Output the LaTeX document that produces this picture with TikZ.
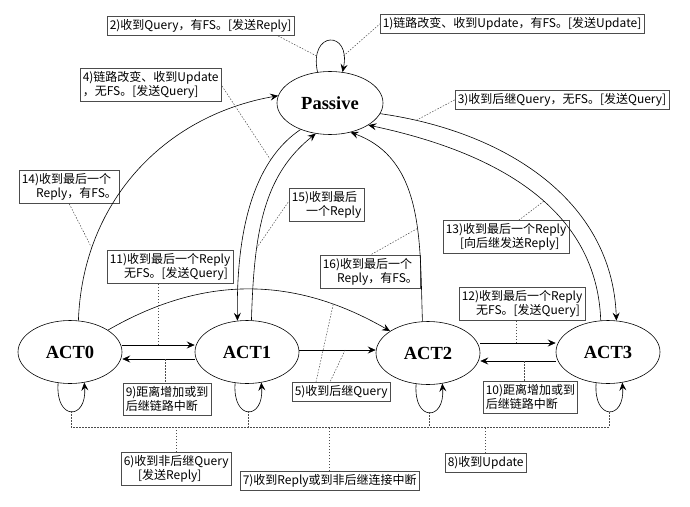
\documentclass[tikz,border=0pt]{standalone}
\usepackage{fontspec}
\setmainfont{Liberation Serif}
\newfontfamily\cjkfont{Noto Sans CJK SC}
\usetikzlibrary{shapes.geometric,arrows.meta,calc}
\begin{document}
\begin{tikzpicture}[x=1pt,y=1pt,
 state/.style={ellipse,draw,line width=0.6pt,inner sep=0pt,minimum width=104pt,minimum height=63pt,font=\bfseries\fontsize{18.5}{21}\selectfont},
 lab/.style={draw=black!70,line width=0.5pt,inner xsep=2.5pt,inner ysep=3pt,font=\cjkfont\fontsize{12}{14.5}\selectfont,align=left,anchor=north west},
 conn/.style={line width=0.6pt},
 arr/.style={conn,-{Stealth[length=8pt,width=7pt,inset=3pt]}},
 ld/.style={line width=0.5pt,black!70,dash pattern=on 1.5pt off 1.5pt}]
\useasboundingbox (0,0) rectangle (690,-506);
\fill[white] (0,0) rectangle (690,-506);

% states
\node[state,minimum width=106pt] (pas) at (330,-103) {Passive};
\node[state] (a0) at (70,-352) {ACT0};
\node[state] (a1) at (247,-352) {ACT1};
\node[state] (a2) at (428,-353) {ACT2};
\node[state] (a3) at (608,-352) {ACT3};

% labels
\node[lab] (l1) at (380,-14) {1)链路改变、收到Update，有FS。[发送Update]};
\node[lab] (l2) at (107,-16) {2)收到Query，有FS。[发送Reply]};
\node[lab] (l3) at (455,-90) {3)收到后继Query，无FS。[发送Query]};
\node[lab] (l4) at (80,-68) {4)链路改变、收到Update\\，无FS。[发送Query]};
\node[lab] (l14) at (19,-170) {14)收到最后一个\\\hspace*{1.2em}Reply，有FS。};
\node[lab] (l15) at (289,-188) {15)收到最后\\\hspace*{1.2em}一个Reply};
\node[lab] (l11) at (107,-250) {11)收到最后一个Reply\\\hspace*{1.2em}无FS。[发送Query]};
\node[lab] (l16) at (320,-255) {16)收到最后一个\\\hspace*{1.2em}Reply，有FS。};
\node[lab] (l13) at (443,-220) {13)收到最后一个Reply\\\hspace*{1.2em}{[}向后继发送Reply]};
\node[lab] (l12) at (459,-287) {12)收到最后一个Reply\\\hspace*{1.2em}无FS。[发送Query]};
\node[lab] (l9) at (123,-383) {9)距离增加或到\\后继链路中断};
\node[lab] (l5) at (292,-382) {5)收到后继Query};
\node[lab] (l10) at (483,-381) {10)距离增加或到\\后继链路中断};
\node[lab] (l6) at (121,-452) {6)收到非后继Query\\\hspace*{1.2em}{[}发送Reply]};
\node[lab] (l7) at (240,-471) {7)收到Reply或到非后继连接中断};
\node[lab] (l8) at (445,-453) {8)收到Update};

% self loops
\draw[arr] (pas.112) .. controls +(-9,42) and +(9,42) .. coordinate[pos=0.15] (pl) coordinate[pos=0.85] (pr) (pas.68);
\foreach \n in {0,1,2,3}{
  \draw[arr] (a\n.249) .. controls +(-3,-38) and +(3,-38) .. coordinate[pos=0.5] (lb\n) (a\n.295);
}

% transitions to/from Passive
\draw[arr] (a0.75) to[out=88,in=190] coordinate[pos=0.22] (c14) (pas.172);
\draw[arr] (pas.222) .. controls (258,-158) and (236,-220) .. coordinate[pos=0.27] (c4) (a1.107);
\draw[arr] (a1.82) .. controls (254,-230) and (264,-175) .. coordinate[pos=0.3] (c15) (pas.245);
\draw[arr] (a2.100) to[out=92,in=-20] coordinate[pos=0.4] (c16) (pas.-55);
\draw[arr] (pas.-12) to[out=-8,in=92] coordinate[pos=0.1] (c3) (a3.75);
\draw[arr] (a3.103) to[out=92,in=-12] coordinate[pos=0.43] (c13) (pas.-30);

% ACT0 -> ACT2 arc
\draw[arr] (a0.30) to[out=30,in=150] coordinate[pos=0.8] (c5a) (a2.150);

% horizontal transitions
\draw[arr] ($(a0.east)+(0,7)$) -- coordinate[pos=0.5] (h01) ($(a1.west)+(0,7)$);
\draw[arr] ($(a1.west)+(0,-7)$) -- coordinate[pos=0.41] (h10) ($(a0.east)+(0,-7)$);
\draw[arr] ($(a1.east)+(0,2)$) -- coordinate[pos=0.6] (h12) ($(a2.west)+(0,3)$);
\draw[arr] ($(a2.east)+(0,10)$) -- coordinate[pos=0.48] (h23) ($(a3.west)+(0,9)$);
\draw[arr] ($(a3.west)+(0,-9)$) -- coordinate[pos=0.415] (h32) ($(a2.east)+(0,-8)$);

% leaders
\draw[ld] (pl) -- ($(l2.south east)+(-17,0)$);
\draw[ld] (pr) -- (l1.west);
\draw[ld] (c3) -- (l3.west);
\draw[ld] (c4) -- (l4.east);
\draw[ld] (c14) -- (l14.south);
\draw[ld] (c15) -- ($(l15.west)+(0,4)$);
\draw[ld] (c16) -- (l16.north);
\draw[ld] (c13) -- ($(l13.north)+(13,0)$);
\draw[ld] (h01) -- (h01 |- l11.south);
\draw[ld] (h10) -- (h10 |- l9.north);
\draw[ld] (h23) -- (h23 |- l12.south);
\draw[ld] (h32) -- (h32 |- l10.north);
\draw[ld] (c5a) -- ($(l5.north west)+(24,0)$);
\draw[ld] (h12) -- ($(l5.north west)+(38,0)$);
\coordinate (bus) at (0,-427);
\draw[ld] (lb0) -- (lb0 |- bus) -- (lb3 |- bus) -- (lb3);
\draw[ld] (lb1) -- (lb1 |- bus);
\draw[ld] (lb2) -- (lb2 |- bus);
\draw[ld] (l6.north) -- (l6.north |- bus);
\draw[ld] (l7.north) -- (l7.north |- bus);
\draw[ld] (l8.north) -- (l8.north |- bus);
\end{tikzpicture}
\end{document}
